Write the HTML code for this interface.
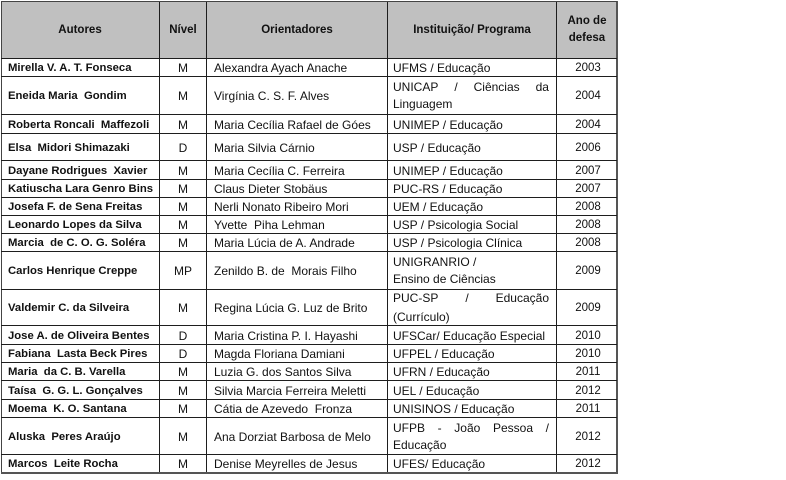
<!DOCTYPE html>
<html>
<head>
<meta charset="utf-8">
<style>
  html,body{margin:0;padding:0;background:#fff;}
  body{width:786px;height:480px;overflow:hidden;position:relative;font-family:"Liberation Sans",Arial,sans-serif;color:#111;}
  .hdr{position:absolute;left:1px;top:1px;width:616px;height:57px;background:#c0c0c0;}
  .vl{position:absolute;top:1px;width:1px;height:472px;background:#1e1e1e;}
  .hl{position:absolute;left:1px;width:616px;height:1px;background:#1e1e1e;}
  .c{position:absolute;display:flex;align-items:center;white-space:nowrap;box-sizing:border-box;padding-top:1px;}
  .a{left:8px;width:150px;font-weight:bold;font-size:11.3px;}
  .n{left:160px;width:46px;justify-content:center;font-size:12px;}
  .o{left:214px;width:172px;font-size:12px;}
  .i{left:393px;width:162px;font-size:12px;}
  .y{left:558px;width:60px;justify-content:center;font-size:11.5px;}
  .h{font-weight:bold;font-size:11.5px;justify-content:center;text-align:center;line-height:17px;}
  .j{display:flex;justify-content:space-between;width:156px;}
  .two{line-height:17px;}
</style>
</head>
<body>
<div class="hdr"></div>

<!-- header -->
<div class="c h" style="left:1px;width:158px;top:1px;height:57px;">Autores</div>
<div class="c h" style="left:160px;width:46px;top:1px;height:57px;">Nível</div>
<div class="c h" style="left:207px;width:180px;top:1px;height:57px;">Orientadores</div>
<div class="c h" style="left:388px;width:168px;top:1px;height:57px;">Instituição/ Programa</div>
<div class="c h" style="left:557px;width:60px;top:1px;height:57px;"><div>Ano de<br>defesa</div></div>

<!-- row 1 -->
<div class="c a" style="top:59px;height:17px;">Mirella V. A. T. Fonseca</div>
<div class="c n" style="top:59px;height:17px;">M</div>
<div class="c o" style="top:59px;height:17px;">Alexandra Ayach Anache</div>
<div class="c i" style="top:59px;height:17px;">UFMS / Educação</div>
<div class="c y" style="top:59px;height:17px;">2003</div>

<!-- row 2 -->
<div class="c a" style="top:77px;height:37px;">Eneida Maria &nbsp;Gondim</div>
<div class="c n" style="top:77px;height:37px;">M</div>
<div class="c o" style="top:77px;height:37px;">Virgínia C. S. F. Alves</div>
<div class="c i two" style="top:77px;height:37px;"><div><div class="j"><span>UNICAP</span><span>/</span><span>Ciências</span><span>da</span></div><div>Linguagem</div></div></div>
<div class="c y" style="top:77px;height:37px;">2004</div>

<!-- row 3 -->
<div class="c a" style="top:115px;height:18px;">Roberta Roncali &nbsp;Maffezoli</div>
<div class="c n" style="top:115px;height:18px;">M</div>
<div class="c o" style="top:115px;height:18px;">Maria Cecília Rafael de Góes</div>
<div class="c i" style="top:115px;height:18px;">UNIMEP / Educação</div>
<div class="c y" style="top:115px;height:18px;">2004</div>

<!-- row 4 -->
<div class="c a" style="top:134px;height:26px;">Elsa &nbsp;Midori Shimazaki</div>
<div class="c n" style="top:134px;height:26px;">D</div>
<div class="c o" style="top:134px;height:26px;">Maria Silvia Cárnio</div>
<div class="c i" style="top:134px;height:26px;">USP / Educação</div>
<div class="c y" style="top:134px;height:26px;">2006</div>

<!-- row 5 -->
<div class="c a" style="top:161px;height:18px;">Dayane Rodrigues &nbsp;Xavier</div>
<div class="c n" style="top:161px;height:18px;">M</div>
<div class="c o" style="top:161px;height:18px;">Maria Cecília C. Ferreira</div>
<div class="c i" style="top:161px;height:18px;">UNIMEP / Educação</div>
<div class="c y" style="top:161px;height:18px;">2007</div>

<!-- row 6 -->
<div class="c a" style="top:180px;height:17px;">Katiuscha Lara Genro Bins</div>
<div class="c n" style="top:180px;height:17px;">M</div>
<div class="c o" style="top:180px;height:17px;">Claus Dieter Stobäus</div>
<div class="c i" style="top:180px;height:17px;">PUC-RS / Educação</div>
<div class="c y" style="top:180px;height:17px;">2007</div>

<!-- row 7 -->
<div class="c a" style="top:198px;height:17px;">Josefa F. de Sena Freitas</div>
<div class="c n" style="top:198px;height:17px;">M</div>
<div class="c o" style="top:198px;height:17px;">Nerli Nonato Ribeiro Mori</div>
<div class="c i" style="top:198px;height:17px;">UEM / Educação</div>
<div class="c y" style="top:198px;height:17px;">2008</div>

<!-- row 8 -->
<div class="c a" style="top:216px;height:17px;">Leonardo Lopes da Silva</div>
<div class="c n" style="top:216px;height:17px;">M</div>
<div class="c o" style="top:216px;height:17px;">Yvette &nbsp;Piha Lehman</div>
<div class="c i" style="top:216px;height:17px;">USP / Psicologia Social</div>
<div class="c y" style="top:216px;height:17px;">2008</div>

<!-- row 9 -->
<div class="c a" style="top:234px;height:17px;">Marcia &nbsp;de C. O. G. Soléra</div>
<div class="c n" style="top:234px;height:17px;">M</div>
<div class="c o" style="top:234px;height:17px;">Maria Lúcia de A. Andrade</div>
<div class="c i" style="top:234px;height:17px;">USP / Psicologia Clínica</div>
<div class="c y" style="top:234px;height:17px;">2008</div>

<!-- row 10 -->
<div class="c a" style="top:252px;height:37px;">Carlos Henrique Creppe</div>
<div class="c n" style="top:252px;height:37px;">MP</div>
<div class="c o" style="top:252px;height:37px;">Zenildo B. de &nbsp;Morais Filho</div>
<div class="c i two" style="top:252px;height:37px;"><div><div>UNIGRANRIO /</div><div>Ensino de Ciências</div></div></div>
<div class="c y" style="top:252px;height:37px;">2009</div>

<!-- row 11 -->
<div class="c a" style="top:290px;height:35px;">Valdemir C. da Silveira</div>
<div class="c n" style="top:290px;height:35px;">M</div>
<div class="c o" style="top:290px;height:35px;">Regina Lúcia G. Luz de Brito</div>
<div class="c i" style="top:290px;height:35px;line-height:19px;"><div><div class="j"><span>PUC-SP</span><span>/</span><span>Educação</span></div><div>(Currículo)</div></div></div>
<div class="c y" style="top:290px;height:35px;">2009</div>

<!-- row 12 -->
<div class="c a" style="top:326px;height:18px;">Jose A. de Oliveira Bentes</div>
<div class="c n" style="top:326px;height:18px;">D</div>
<div class="c o" style="top:326px;height:18px;">Maria Cristina P. I. Hayashi</div>
<div class="c i" style="top:326px;height:18px;">UFSCar/ Educação Especial</div>
<div class="c y" style="top:326px;height:18px;">2010</div>

<!-- row 13 -->
<div class="c a" style="top:345px;height:17px;">Fabiana &nbsp;Lasta Beck Pires</div>
<div class="c n" style="top:345px;height:17px;">D</div>
<div class="c o" style="top:345px;height:17px;">Magda Floriana Damiani</div>
<div class="c i" style="top:345px;height:17px;">UFPEL / Educação</div>
<div class="c y" style="top:345px;height:17px;">2010</div>

<!-- row 14 -->
<div class="c a" style="top:363px;height:17px;">Maria &nbsp;da C. B. Varella</div>
<div class="c n" style="top:363px;height:17px;">M</div>
<div class="c o" style="top:363px;height:17px;">Luzia G. dos Santos Silva</div>
<div class="c i" style="top:363px;height:17px;">UFRN / Educação</div>
<div class="c y" style="top:363px;height:17px;">2011</div>

<!-- row 15 -->
<div class="c a" style="top:381px;height:18px;">Taísa &nbsp;G. G. L. Gonçalves</div>
<div class="c n" style="top:381px;height:18px;">M</div>
<div class="c o" style="top:381px;height:18px;">Silvia Marcia Ferreira Meletti</div>
<div class="c i" style="top:381px;height:18px;">UEL / Educação</div>
<div class="c y" style="top:381px;height:18px;">2012</div>

<!-- row 16 -->
<div class="c a" style="top:400px;height:17px;">Moema &nbsp;K. O. Santana</div>
<div class="c n" style="top:400px;height:17px;">M</div>
<div class="c o" style="top:400px;height:17px;">Cátia de Azevedo &nbsp;Fronza</div>
<div class="c i" style="top:400px;height:17px;">UNISINOS / Educação</div>
<div class="c y" style="top:400px;height:17px;">2011</div>

<!-- row 17 -->
<div class="c a" style="top:418px;height:36px;">Aluska &nbsp;Peres Araújo</div>
<div class="c n" style="top:418px;height:36px;">M</div>
<div class="c o" style="top:418px;height:36px;">Ana Dorziat Barbosa de Melo</div>
<div class="c i two" style="top:418px;height:36px;"><div><div class="j"><span>UFPB</span><span>-</span><span>João</span><span>Pessoa</span><span>/</span></div><div>Educação</div></div></div>
<div class="c y" style="top:418px;height:36px;">2012</div>

<!-- row 18 -->
<div class="c a" style="top:455px;height:17px;">Marcos &nbsp;Leite Rocha</div>
<div class="c n" style="top:455px;height:17px;">M</div>
<div class="c o" style="top:455px;height:17px;">Denise Meyrelles de Jesus</div>
<div class="c i" style="top:455px;height:17px;">UFES/ Educação</div>
<div class="c y" style="top:455px;height:17px;">2012</div>

<!-- vertical lines -->
<div class="vl" style="left:1px;background:#444;"></div>
<div class="vl" style="left:159px;"></div>
<div class="vl" style="left:206px;"></div>
<div class="vl" style="left:387px;"></div>
<div class="vl" style="left:556px;"></div>
<div class="vl" style="left:616px;width:2px;background:#555;"></div>

<!-- horizontal lines -->
<div class="hl" style="top:1px;background:#444;"></div>
<div class="hl" style="top:58px;"></div>
<div class="hl" style="top:76px;"></div>
<div class="hl" style="top:114px;"></div>
<div class="hl" style="top:133px;"></div>
<div class="hl" style="top:160px;"></div>
<div class="hl" style="top:179px;"></div>
<div class="hl" style="top:197px;"></div>
<div class="hl" style="top:215px;"></div>
<div class="hl" style="top:233px;"></div>
<div class="hl" style="top:251px;"></div>
<div class="hl" style="top:289px;"></div>
<div class="hl" style="top:325px;"></div>
<div class="hl" style="top:344px;"></div>
<div class="hl" style="top:362px;"></div>
<div class="hl" style="top:380px;"></div>
<div class="hl" style="top:399px;"></div>
<div class="hl" style="top:417px;"></div>
<div class="hl" style="top:454px;"></div>
<div class="hl" style="top:472px;height:2px;width:617px;background:#555;"></div>
</body>
</html>
